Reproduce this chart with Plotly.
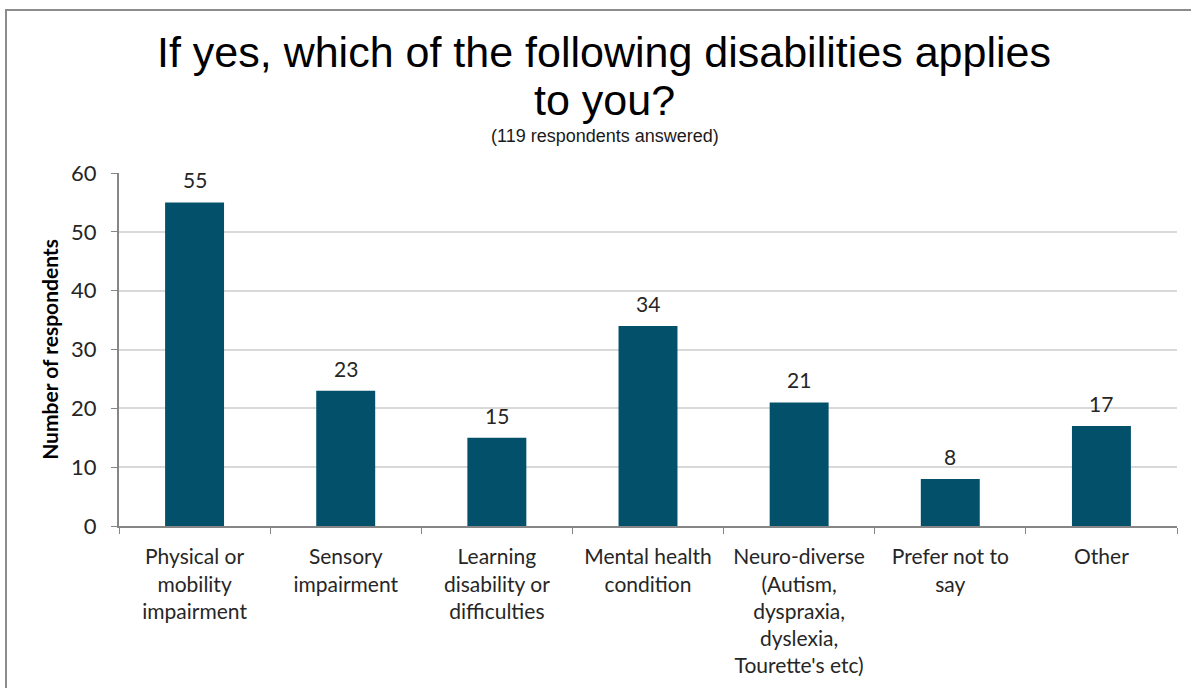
import plotly.graph_objects as go

categories = [
    "Physical or<br>mobility<br>impairment",
    "Sensory<br>impairment",
    "Learning<br>disability or<br>difficulties",
    "Mental health<br>condition",
    "Neuro-diverse<br>(Autism,<br>dyspraxia,<br>dyslexia,<br>Tourette's etc)",
    "Prefer not to<br>say",
    "Other",
]
values = [55, 23, 15, 34, 21, 8, 17]
y_ticks = [0, 10, 20, 30, 40, 50, 60]

W, H = 1191, 688
L, R, T, B = 119, 14, 173, 162
pw, ph = W - L - R, H - T - B

def px_x(x):
    return (x - L) / pw

def px_y(y):
    return (H - B - y) / ph

FONT = "Lato, Open Sans, sans-serif"

fig = go.Figure(go.Bar(
    x=categories, y=values,
    marker=dict(color="#02506A", line=dict(width=0)),
    width=0.39,
    hoverinfo="x+y",
))

annotations = [
    dict(x=c, y=v, xref="x", yref="y", text=str(v), showarrow=False,
         yanchor="bottom", yshift=8,
         font=dict(family=FONT, size=21, color="#262626"))
    for c, v in zip(categories, values)
]
annotations += [
    dict(text="If yes, which of the following disabilities applies",
         xref="paper", yref="paper", x=px_x(604), y=px_y(52), xanchor="center", yanchor="middle",
         showarrow=False, font=dict(family="Liberation Sans, Arial, sans-serif", size=43, color="#000000")),
    dict(text="to you?",
         xref="paper", yref="paper", x=px_x(604), y=px_y(100), xanchor="center", yanchor="middle",
         showarrow=False, font=dict(family="Liberation Sans, Arial, sans-serif", size=43, color="#000000")),
    dict(text="(119 respondents answered)",
         xref="paper", yref="paper", x=px_x(605), y=px_y(136), xanchor="center", yanchor="middle",
         showarrow=False, font=dict(family="Liberation Sans, Arial, sans-serif", size=18, color="#1a1a1a")),
]

fig.update_layout(
    width=W, height=H,
    margin=dict(l=L, r=R, t=T, b=B),
    paper_bgcolor="white", plot_bgcolor="white",
    showlegend=False,
    font=dict(family=FONT, color="#262626"),
    xaxis=dict(
        type="category", tickson="boundaries", ticks="outside", ticklen=6,
        tickcolor="#868686", showline=True, linecolor="#868686", linewidth=2,
        tickfont=dict(size=21, color="#262626"), ticklabelstandoff=11,
        showgrid=False, fixedrange=True,
    ),
    yaxis=dict(
        range=[0, 60], tickvals=y_ticks, ticks="outside", ticklen=6,
        tickcolor="#868686", showline=True, linecolor="#868686", linewidth=2,
        gridcolor="#D9D9D9", gridwidth=1.5, zeroline=False,
        tickfont=dict(size=22, color="#262626"), ticklabelstandoff=10,
        title=dict(text="<b>Number of respondents</b>", font=dict(size=21, color="#000000"), standoff=7),
        fixedrange=True,
    ),
    shapes=[dict(
        type="rect", xref="paper", yref="paper",
        x0=px_x(6), x1=px_x(1200), y0=px_y(700), y1=px_y(10),
        line=dict(color="#8C8C8C", width=2), fillcolor="rgba(0,0,0,0)", layer="below",
    )],
    annotations=annotations,
)

fig.write_html("out.html", config={"displayModeBar": False},
               post_script="document.body.style.margin='0';document.body.style.overflow='hidden';")
